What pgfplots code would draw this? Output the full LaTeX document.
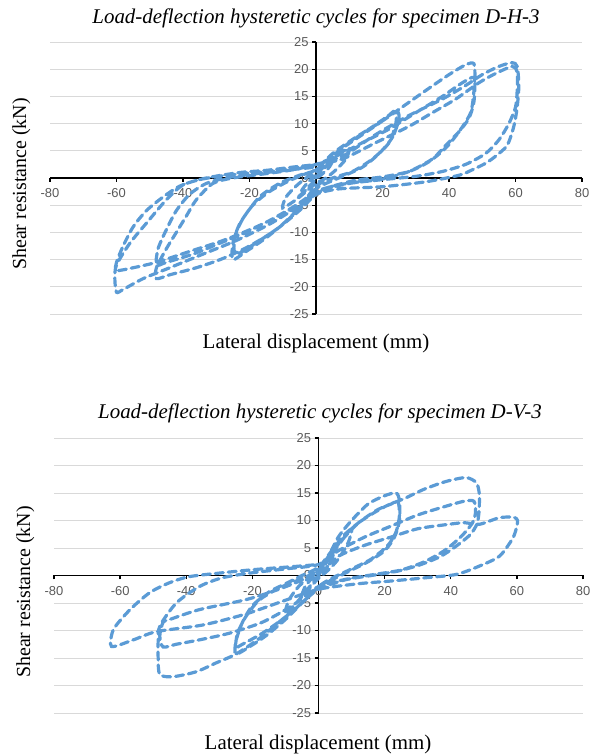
\documentclass[border=0pt]{standalone}
\usepackage{pgfplots}
\pgfplotsset{compat=1.18}
\usepackage{fontspec}
\setmainfont{Liberation Serif}
\newfontfamily\arialfont{Liberation Sans}
\definecolor{excelblue}{RGB}{91,155,213}
\definecolor{gridgray}{RGB}{217,217,217}
\definecolor{labelgray}{RGB}{89,89,89}

\pgfplotsset{
  hyst/.style={
    scale only axis,
    xmin=-80, xmax=80, ymin=-25, ymax=25,
    axis x line=middle, axis y line=middle,
    axis line style={black, line width=1.6bp, -},
    xtick={-80,-60,...,80}, ytick={-25,-20,...,25},
    hide obscured x ticks=false, hide obscured y ticks=false,
    ymajorgrids, major grid style={gridgray, line width=0.8bp},
    tick style={black, line width=1.3bp}, tick align=outside, major tick length=4bp,
    ticklabel style={font=\arialfont\fontsize{13}{15}\selectfont, text=labelgray},
    x tick label style={yshift=-3bp},
    /pgf/number format/assume math mode=true,
    clip=false,
  },
  loop/.style={excelblue, line width=3.2bp, line cap=round,
    dash pattern=on 8bp off 5bp, smooth, tension=0.45},
}

\begin{document}
\begin{tikzpicture}[x=1bp, y=1bp]
\path[use as bounding box] (0,0) rectangle (592,755);

% ---------- D-H-3 ----------
\begin{axis}[hyst, at={(50bp,441bp)}, anchor=south west, width=532bp, height=272bp]
\addplot[loop] coordinates {
 (0,0) (2,1.5) (4,2.8) (5,3.2) (4,2) (2,0.8) (0,-0.2) (-2,-1.5) (-4,-2.8) (-5,-3.2) (-4,-2) (-2,-0.5) (0,0.5)
 (3,2.5) (6,4) (10,5.5) (9,3.5) (6,1.5) (3,0) (0,-1) (-3,-2.5) (-6,-4) (-10,-5.5) (-9,-3.5) (-6,-1.5) (-3,0) (0,1)
 (3,3) (8,5.5) (14,8) (20,10.5) (24,12.5) (25,11) (23,7.5) (19,4.5) (14,2) (8,0.3) (3,-1) (0,-2)
 (-4,-5) (-9,-8) (-15,-11) (-21,-13.5) (-25,-15) (-25,-12) (-23,-8.5) (-19,-5) (-14,-2.5) (-8,-0.5) (-3,0.8) (0,1.5)
 (4,3.5) (10,6.5) (16,9) (22,11.5) (24,12) (24,10) (22,6.5) (17,3.5) (11,1.2) (5,0) (0,-1.5)
 (-5,-5.5) (-11,-9) (-17,-11.5) (-24,-14) (-24.5,-11) (-22,-7.5) (-17,-3.5) (-11,-1) (-5,0.5) (0,1.5)
 (5,4.5) (12,7.5) (20,10.5) (27,13.5) (34,16.5) (40,19) (45,20.8) (47.5,21) (47.8,18) (47.5,14) (46,11) (43,8.5) (39,6) (35,3.5) (28,1.2) (20,-0.2) (12,-0.8) (5,-1.5) (0,-3)
 (-5,-6) (-12,-9.5) (-20,-12.5) (-28,-14.8) (-36,-16.5) (-44,-17.8) (-48,-18.5) (-48,-16.5) (-45,-13) (-42,-10) (-39,-7) (-36,-4) (-31,-1) (-25,0) (-15,0.8) (-7,1.5) (0,2.5)
 (6,4) (14,6.5) (22,9) (30,12) (38,15) (44,17.5) (47.5,18.5) (47.5,16) (46.5,12) (43,8.5) (39,5.5) (34,3) (28,1.2) (20,0.2) (12,-0.4) (5,-1.5) (0,-2.5)
 (-6,-5) (-13,-7.5) (-21,-10) (-29,-12) (-37,-14) (-45,-15.5) (-48,-16) (-47.5,-13) (-45,-9.5) (-42,-6) (-38,-3) (-33,-1) (-27,0) (-18,0.8) (-8,1.5) (0,2.5)
 (8,4) (18,8) (28,11.5) (38,14.5) (45,17) (50,19) (55,20.5) (59,21.2) (60.5,20.5) (61,17) (60.5,13) (59.5,9.5) (57.5,6) (54,4) (51,2.7) (47,1.5) (43,0.5) (33,-0.7) (20,-1.6) (7,-2) (0,-3)
 (-6,-5.5) (-14,-8.5) (-24,-11.5) (-34,-14) (-44,-16.5) (-52,-18.5) (-58,-20.5) (-60,-21) (-60.5,-18.5) (-60,-16) (-56,-12) (-51,-8.3) (-45,-4) (-40,-1.3) (-33,0) (-23,1) (-15,1.4) (-7,2) (0,2.5)
 (8,3.5) (18,6.5) (28,9.5) (35,12) (42,14.5) (49,17.5) (54,19.2) (59,20.5) (60.5,19.5) (60.5,16) (60,13) (58,10) (55,7) (51,4.5) (45,2.5) (38,1.2) (30,0.3) (20,-0.3) (10,-1) (3,-2) (0,-3)
 (-8,-6) (-18,-9) (-28,-11.5) (-38,-13.5) (-48,-15.5) (-55,-16.5) (-60,-17) (-60,-15.5) (-58,-12.5) (-55,-9) (-51,-6) (-46,-3.5) (-41,-1.5) (-35,-0.3) (-27,0.5) (-18,1) (-8,1.5) (0,2)
};
\end{axis}
\node[anchor=base, font=\itshape\fontsize{21}{23}\selectfont] at (316,731) {Load-deflection hysteretic cycles for specimen D-H-3};
\node[anchor=base, font=\fontsize{21}{23}\selectfont] at (316,406) {Lateral displacement (mm)};
\node[anchor=base, rotate=90, font=\fontsize{20}{22}\selectfont] at (26,571) {Shear resistance (kN)};

% ---------- D-V-3 ----------
\begin{axis}[hyst, at={(54bp,42bp)}, anchor=south west, width=529bp, height=275bp]
\addplot[loop] coordinates {
 (0,0) (2,2) (4,4) (5,5) (4,3) (2,1) (0,0) (-2,-1.5) (-4,-3) (-5,-3.5) (-4,-2) (-2,-0.5) (0,0.5)
 (3,3) (6,5.5) (10,8.5) (9,6) (6,3) (3,1) (0,-0.5) (-3,-2.5) (-6,-4.5) (-10,-7) (-9,-4.5) (-6,-2) (-3,-0.5) (0,1)
 (3,3.5) (6,7) (10,10) (15,13) (20,14.5) (23.5,15) (24.5,13.5) (24.5,10) (23,7) (20,4.5) (15,2.5) (10,1) (5,-0.5) (0,-2)
 (-5,-5) (-10,-8) (-16,-11) (-21,-13) (-25,-14.3) (-25,-12) (-23,-8.5) (-20,-5.5) (-15,-3) (-10,-1.5) (-5,0) (0,1.5)
 (4,4.5) (8,7.5) (13,10) (18,12) (22,13) (24,13.5) (24.5,11) (23.5,8) (21,5.5) (16,3) (10,1.2) (4,-0.5) (0,-2)
 (-5,-5) (-11,-8) (-17,-10.5) (-23,-12.5) (-25,-13) (-24.5,-10.5) (-22,-7.5) (-18,-4.5) (-12,-2.3) (-6,-0.8) (0,1)
 (5,5) (12,9.5) (20,12.5) (26,14) (32,15.7) (38.6,17.1) (44.6,17.8) (47.7,16.9) (48.6,15) (48.6,12) (48,9.5) (46,7.5) (42,5.5) (37,3.5) (31,2) (24,0.8) (16,0) (8,-0.8) (0,-2.5)
 (-6,-5.5) (-12,-8.5) (-18,-11.5) (-25,-14.3) (-31,-15.9) (-37,-17.5) (-44,-18.4) (-48,-18) (-48.5,-15) (-48.5,-12) (-48,-9.2) (-43,-5) (-36,-2) (-29,-0.4) (-20,0.5) (-10,1.2) (0,2)
 (6,4.5) (14,7) (22,9) (30,11) (38,12.5) (44,13.5) (47,13.5) (47.5,11.5) (46.5,9.5) (43,7) (38,4.5) (32,2.5) (25,1) (17,0.2) (9,-0.6) (0,-2)
 (-8,-5.5) (-17,-8.5) (-27,-10.5) (-36,-11.7) (-43,-12.5) (-47,-13) (-48,-11) (-47,-8.5) (-45,-8) (-36,-6.2) (-22,-4.4) (-12,-2.5) (0,0.5)
 (6,3.5) (14,5.5) (22,7) (30,8.5) (38,9.2) (44,9.6) (48.6,9.3) (54.7,10.5) (59,10.6) (60.2,10) (59.8,8.5) (58.6,6.6) (54.7,3.5) (48.6,1.7) (41.7,0.2) (32.6,-0.4) (22,-1) (12,-1.5) (0,-2.5)
 (-10,-4.5) (-22,-7) (-35,-9) (-49,-10.2) (-56,-11.7) (-62.6,-12.9) (-62,-9.8) (-57,-6.2) (-51,-3.1) (-45,-1.3) (-39,-0.2) (-29,0.5) (-19,1.1) (-8,1.6) (0,2)
};
\end{axis}
\node[anchor=base, font=\itshape\fontsize{21}{23}\selectfont] at (320,336) {Load-deflection hysteretic cycles for specimen D-V-3};
\node[anchor=base, font=\fontsize{21}{23}\selectfont] at (318,5) {Lateral displacement (mm)};
\node[anchor=base, rotate=90, font=\fontsize{20}{22}\selectfont] at (30,163) {Shear resistance (kN)};
\end{tikzpicture}
\end{document}
